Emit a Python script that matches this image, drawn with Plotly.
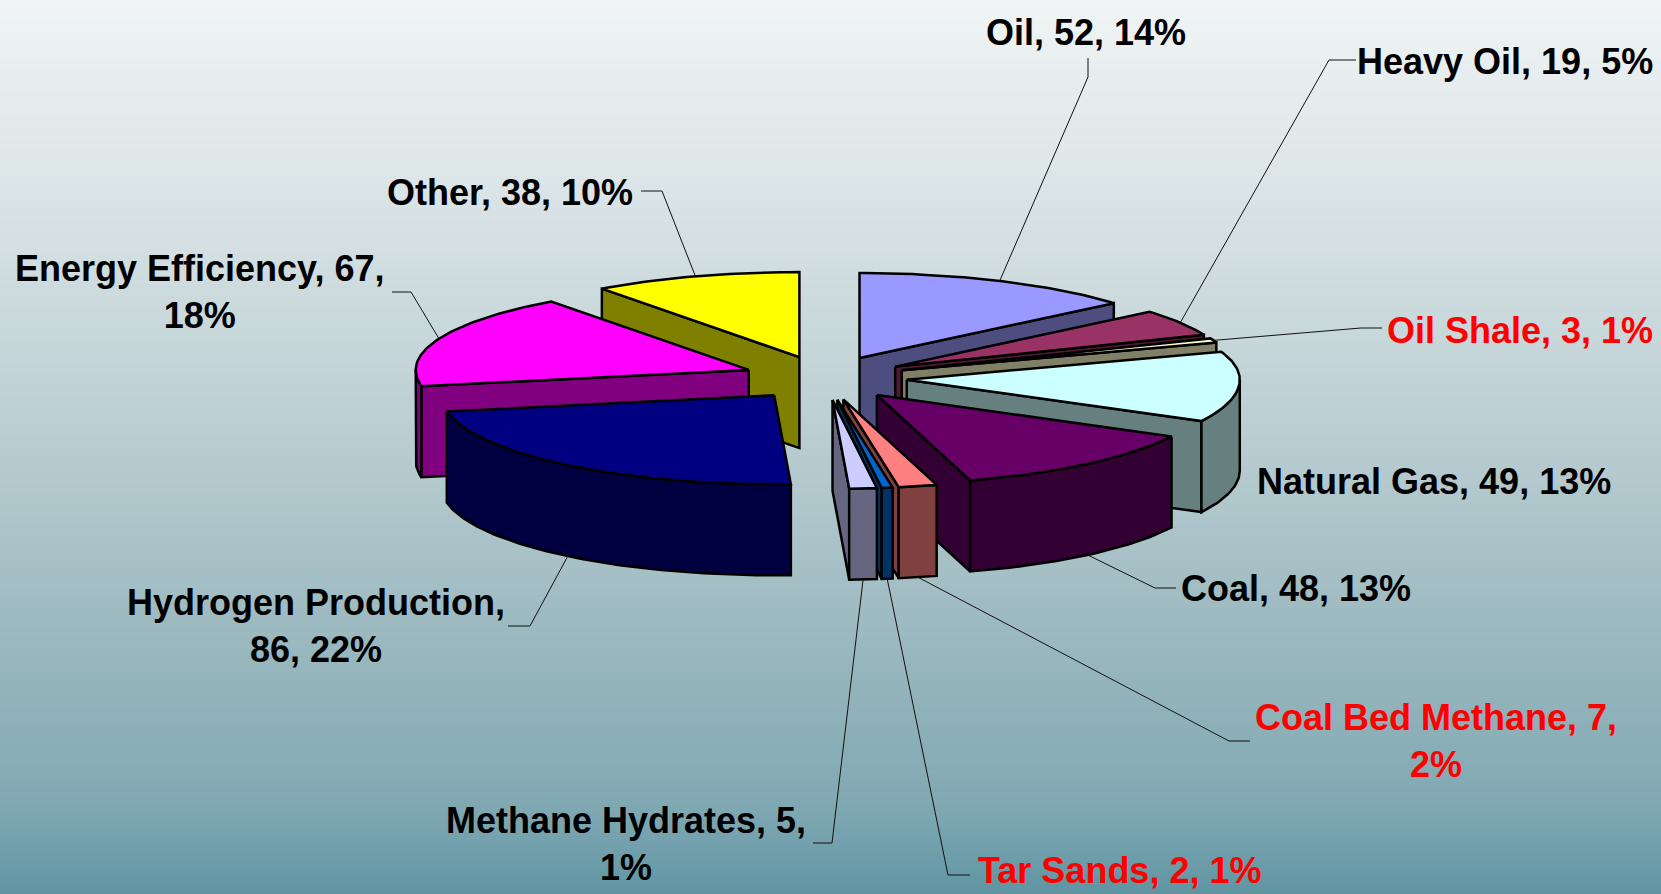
import math
import plotly.graph_objects as go

categories = ["Oil", "Heavy Oil", "Oil Shale", "Natural Gas", "Coal", "Coal Bed Methane",
              "Tar Sands", "Methane Hydrates", "Hydrogen Production", "Energy Efficiency", "Other"]
values = [52, 19, 3, 49, 48, 7, 2, 5, 86, 67, 38]
percents = [14, 5, 1, 13, 13, 2, 1, 1, 22, 18, 10]
top_colors = ["#9999FF", "#993366", "#FFFFCC", "#CCFFFF", "#660066", "#FF8080",
              "#0066CC", "#CCCCFF", "#000080", "#FF00FF", "#FFFF00"]
side_colors = ["#4D4D80", "#4D1A33", "#808066", "#668080", "#330033", "#804040",
               "#003366", "#666680", "#000040", "#800080", "#808000"]
label_colors = ["black", "black", "#FF0000", "black", "black", "#FF0000",
                "#FF0000", "black", "black", "black", "black"]
label_breaks = [None, None, None, None, None, 2, None, 2, 1, 2, None]
label_xy = [(1086, 32), (1505, 61), (1520, 330), (1434, 481), (1296, 588), (1436, 741),
            (1119, 870), (626, 844), (316, 626), (200, 292), (510, 192)]
# leader elbow points, from the label side toward the pie
leader_paths = {
    "Oil": [(1088, 58), (1088, 77)],
    "Heavy Oil": [(1356, 60), (1329, 60)],
    "Oil Shale": [(1382, 328), (1361, 328)],
    "Coal": [(1176, 588), (1155, 588)],
    "Coal Bed Methane": [(1250, 741), (1229, 741)],
    "Tar Sands": [(970, 875), (948, 875)],
    "Methane Hydrates": [(813, 843), (832, 843)],
    "Hydrogen Production": [(508, 626), (530, 626)],
    "Energy Efficiency": [(392, 292), (411, 292)],
    "Other": [(641, 191), (662, 191)],
}

W, H = 1661, 894
CX, CY = 825, 378
RX, RY_BACK, RY_FRONT = 333, 85, 89
EX, EY, DEPTH = 82, 22, 91
total = sum(values)


def rim(apex, deg):
    t = math.radians(deg)
    c = math.cos(t)
    return apex[0] + RX * math.sin(t), apex[1] - (RY_BACK if c > 0 else RY_FRONT) * c


def arc(apex, a, b):
    n = max(2, int(abs(b - a)) + 1)
    return [rim(apex, a + (b - a) * i / (n - 1)) for i in range(n)]


def poly(fig, pts, color, name, width=2.5):
    pts = list(pts) + [pts[0]]
    fig.add_trace(go.Scatter(x=[p[0] for p in pts], y=[p[1] for p in pts], mode="lines",
                             fill="toself", fillcolor=color, line=dict(color="black", width=width),
                             name=name, hoverinfo="name", showlegend=False))


sectors = []
cum = 0
for i, v in enumerate(values):
    a = cum / total * 360
    cum += v
    b = cum / total * 360
    m = (a + b) / 2
    t = math.radians(m)
    apex = (CX + EX * math.sin(t), CY - EY * math.cos(t))
    sectors.append(dict(i=i, a=a, b=b, m=m, apex=apex))

fig = go.Figure()
fig.add_trace(go.Heatmap(z=[[k] for k in range(6)], x=[0, W], y=[0, 180, 400, 600, 800, H],
                         colorscale=[[0, "#F0F4F4"], [0.2, "#DCE5E7"], [0.44, "#B9CDD1"],
                                     [0.67, "#96B5BC"], [0.89, "#73A1AD"], [1, "#5F94A2"]],
                         zmin=0, zmax=5, showscale=False, zsmooth="best", hoverinfo="skip"))

for s in sorted(sectors, key=lambda s: -math.cos(math.radians(s["m"]))):
    ap, a, b, i = s["apex"], s["a"], s["b"], s["i"]
    name = categories[i]
    down = lambda p: (p[0], p[1] + DEPTH)
    if b < 180 and b - a > 0:
        e = rim(ap, b)
        poly(fig, [ap, e, down(e), down(ap)], side_colors[i], name)
    if a > 180:
        e = rim(ap, a)
        poly(fig, [ap, e, down(e), down(ap)], side_colors[i], name)
    lo, hi = max(a, 90), min(b, 270)
    if hi > lo:
        edge = arc(ap, lo, hi)
        poly(fig, edge + [down(p) for p in reversed(edge)], side_colors[i], name)
    poly(fig, [ap] + arc(ap, a, b), top_colors[i], name)

for s in sectors:
    name = categories[s["i"]]
    if name not in leader_paths:
        continue
    p = rim(s["apex"], s["m"])
    if 90 < s["m"] < 270:
        p = (p[0], p[1] + DEPTH)
    pts = leader_paths[name] + [p]
    fig.add_trace(go.Scatter(x=[q[0] for q in pts], y=[q[1] for q in pts], mode="lines",
                             line=dict(color="#111111", width=1), hoverinfo="skip", showlegend=False))

for i, name in enumerate(categories):
    parts = [name, str(values[i]), f"{percents[i]}%"]
    br = label_breaks[i]
    if br == 1:
        text = f"{parts[0]},<br>{parts[1]}, {parts[2]}"
    elif br == 2:
        text = f"{parts[0]}, {parts[1]},<br>{parts[2]}"
    else:
        text = ", ".join(parts)
    fig.add_annotation(x=label_xy[i][0], y=label_xy[i][1], text=text, showarrow=False,
                       font=dict(family="Liberation Sans", size=36, color=label_colors[i], weight="bold"),
                       align="center", xanchor="center", yanchor="middle")

fig.update_layout(width=W, height=H, margin=dict(l=0, r=0, t=0, b=0), showlegend=False,
                  paper_bgcolor="#B9CDD1", plot_bgcolor="#B9CDD1",
                  xaxis=dict(range=[0, W], visible=False, fixedrange=True),
                  yaxis=dict(range=[H, 0], visible=False, fixedrange=True))
fig.write_html("out.html", config={"displayModeBar": False},
               post_script="document.body.style.margin='0';document.documentElement.style.overflow='hidden';window.dispatchEvent(new Event('resize'));")
